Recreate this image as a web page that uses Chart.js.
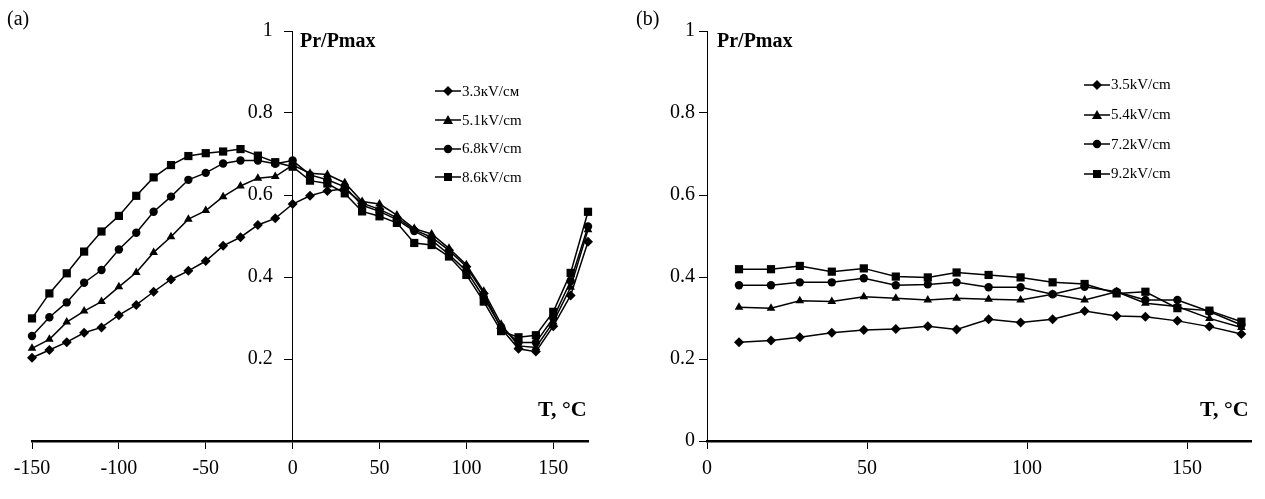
<!DOCTYPE html>
<html lang="en">
<head>
    <meta charset="UTF-8">
    <title>Pr/Pmax vs T</title>
    <script src="https://cdn.jsdelivr.net/npm/chart.js"></script>
    <style>
        body { margin: 0; background: #fff; font-family: "Liberation Serif", "DejaVu Serif", serif; }
        #wrap { position: relative; width: 1265px; height: 499px; overflow: hidden; }
        .pane { position: absolute; top: 0; height: 499px; }
        .txt { position: absolute; color: #000; white-space: nowrap; line-height: 1; }
        .panel { font-size: 20px; }
        .ylab { font-size: 20px; font-weight: bold; }
        .xlab { font-size: 22px; font-weight: bold; }
        .leg { position: absolute; font-size: 15px; line-height: 1; }
        .leg div { display: flex; align-items: center; }
        .leg svg { margin-right: 1px; }
    </style>
</head>
<body>
<div id="wrap">
    <div class="pane" style="left:0;width:632px"><canvas id="chartA" width="632" height="499"></canvas></div>
    <div class="pane" style="left:632px;width:633px"><canvas id="chartB" width="633" height="499"></canvas></div>

    <div class="txt panel" style="left:7px;top:8px">(a)</div>
    <div class="txt panel" style="left:636px;top:8px">(b)</div>
    <div class="txt ylab" style="left:300px;top:30px">Pr/Pmax</div>
    <div class="txt ylab" style="left:717px;top:30px">Pr/Pmax</div>
    <div class="txt xlab" style="left:538px;top:398px">T, °C</div>
    <div class="txt xlab" style="left:1200px;top:398px">T, °C</div>

    <div class="leg" id="legA" style="left:435px;top:77px"></div>
    <div class="leg" id="legB" style="left:1084px;top:70px"></div>
</div>

<script>
    // (a) temperatures and curves
    const tempsA = [-150, -140, -130, -120, -110, -100, -90, -80, -70, -60, -50, -40, -30, -20, -10, 0,
                    10, 20, 30, 40, 50, 60, 70, 80, 90, 100, 110, 120, 130, 140, 150, 160, 170];
    const labelsA = ['3.3кV/см', '5.1kV/cm', '6.8kV/cm', '8.6kV/cm'];
    const a33 = [0.203, 0.222, 0.241, 0.264, 0.277, 0.307, 0.332, 0.364, 0.394, 0.415, 0.439, 0.476, 0.497, 0.527, 0.543, 0.578,
                 0.598, 0.610, 0.615, 0.580, 0.565, 0.545, 0.515, 0.497, 0.465, 0.425, 0.360, 0.275, 0.225, 0.218, 0.280, 0.355, 0.486];
    const a51 = [0.226, 0.248, 0.290, 0.317, 0.340, 0.376, 0.411, 0.460, 0.498, 0.541, 0.562, 0.596, 0.622, 0.641, 0.645, 0.673,
                 0.653, 0.650, 0.630, 0.584, 0.578, 0.551, 0.518, 0.505, 0.470, 0.430, 0.365, 0.285, 0.232, 0.228, 0.290, 0.375, 0.515];
    const a68 = [0.256, 0.302, 0.338, 0.386, 0.417, 0.467, 0.508, 0.559, 0.596, 0.637, 0.654, 0.677, 0.684, 0.684, 0.676, 0.684,
                 0.649, 0.637, 0.620, 0.575, 0.560, 0.540, 0.512, 0.490, 0.455, 0.415, 0.350, 0.278, 0.240, 0.240, 0.300, 0.390, 0.523];
    const a86 = [0.299, 0.360, 0.409, 0.462, 0.511, 0.549, 0.598, 0.643, 0.673, 0.695, 0.702, 0.706, 0.712, 0.696, 0.680, 0.669,
                 0.635, 0.628, 0.604, 0.560, 0.548, 0.532, 0.483, 0.478, 0.450, 0.405, 0.340, 0.268, 0.253, 0.258, 0.315, 0.410, 0.559];

    // (b) temperatures and curves
    const tempsB = [10, 20, 29, 39, 49, 59, 69, 78, 88, 98, 108, 118, 128, 137, 147, 157, 167];
    const labelsB = ['3.5kV/cm', '5.4kV/cm', '7.2kV/cm', '9.2kV/cm'];
    const b35 = [0.241, 0.245, 0.253, 0.264, 0.271, 0.273, 0.280, 0.272, 0.297, 0.289, 0.297, 0.317, 0.305, 0.303, 0.293, 0.279, 0.261];
    const b54 = [0.326, 0.324, 0.342, 0.340, 0.352, 0.348, 0.344, 0.348, 0.346, 0.344, 0.358, 0.344, 0.364, 0.336, 0.328, 0.299, 0.277];
    const b72 = [0.380, 0.380, 0.387, 0.387, 0.397, 0.380, 0.382, 0.387, 0.375, 0.375, 0.358, 0.376, 0.364, 0.344, 0.344, 0.316, 0.283];
    const b92 = [0.419, 0.419, 0.427, 0.413, 0.421, 0.401, 0.399, 0.411, 0.405, 0.399, 0.387, 0.383, 0.360, 0.364, 0.324, 0.318, 0.291];

    const yTicks = [0, 0.2, 0.4, 0.6, 0.8, 1];
    const xTicksA = [-150, -100, -50, 0, 50, 100, 150];
    const xTicksB = [0, 50, 100, 150];

    const markers = [
        { style: 'rectRot', radius: 5 },
        { style: 'triangle', radius: 5 },
        { style: 'circle', radius: 4.2 },
        { style: 'rect', radius: 5.8 }
    ];
    const tickFont = { family: '"Liberation Serif", "DejaVu Serif", serif', size: 20 };

    function toPoints(xs, ys) {
        return xs.map((x, i) => ({ x: x, y: ys[i] }));
    }

    function makeSets(xs, series, labels) {
        return series.map((ys, i) => ({
            label: labels[i],
            data: toPoints(xs, ys),
            borderColor: '#000',
            backgroundColor: '#000',
            borderWidth: 1.5,
            pointStyle: markers[i].style,
            pointRadius: markers[i].radius,
            pointBorderWidth: 0,
            pointBackgroundColor: '#000',
            tension: 0,
            fill: false,
            clip: false
        }));
    }

    function axisGrid(hideZero) {
        return {
            display: true,
            drawOnChartArea: false,
            drawTicks: true,
            tickLength: 8,
            tickWidth: 1,
            color: ctx => (hideZero && ctx.tick && ctx.tick.value === 0) ? 'rgba(0,0,0,0)' : '#000'
        };
    }

    function buildChart(id, xs, series, labels, xMin, xMax, xTicks, opts) {
        return new Chart(document.getElementById(id), {
            type: 'line',
            data: { datasets: makeSets(xs, series, labels) },
            options: {
                responsive: false,
                animation: false,
                devicePixelRatio: 1,
                layout: { padding: opts.padding },
                plugins: { legend: { display: false }, tooltip: { enabled: false } },
                scales: {
                    x: {
                        type: 'linear',
                        min: xMin,
                        max: xMax,
                        position: 'bottom',
                        afterBuildTicks: s => { s.ticks = xTicks.map(v => ({ value: v })); },
                        afterFit: s => { s.height = 58; },
                        ticks: { font: tickFont, color: '#000', padding: 8, maxRotation: 0 },
                        grid: axisGrid(false),
                        border: { display: true, color: '#000', width: 2.5 }
                    },
                    y: {
                        type: 'linear',
                        min: 0,
                        max: 1,
                        position: opts.yPos,
                        afterBuildTicks: s => { s.ticks = yTicks.map(v => ({ value: v })); },
                        afterFit: s => { if (opts.yWidth) s.width = opts.yWidth; },
                        ticks: {
                            font: tickFont,
                            color: '#000',
                            padding: 4,
                            // the centred axis puts labels flush on the line, so pad them on the right
                            callback: v => (opts.hideZero && v === 0) ? '' : String(v) + (opts.labelGap || '')
                        },
                        grid: axisGrid(opts.hideZero),
                        border: { display: true, color: '#000', width: 1 }
                    }
                }
            }
        });
    }

    buildChart('chartA', tempsA, [a33, a51, a68, a86], labelsA, -150, 170, xTicksA,
        { padding: { left: 32, right: 44, top: 31, bottom: 0 }, yPos: { x: 0 }, hideZero: true, labelGap: '\u2002\u2002' });
    buildChart('chartB', tempsB, [b35, b54, b72, b92], labelsB, 0, 170, xTicksB,
        { padding: { left: 0, right: 14, top: 31, bottom: 0 }, yPos: 'left', yWidth: 75, hideZero: false });

    // legends: short line with the series marker, then the label
    const shapes = [
        '<polygon points="13,2 18,7 13,12 8,7" fill="#000"/>',
        '<polygon points="13,2 18,11 8,11" fill="#000"/>',
        '<circle cx="13" cy="7" r="4.2" fill="#000"/>',
        '<rect x="9" y="3" width="8" height="8" fill="#000"/>'
    ];
    function fillLegend(id, labels, rowH) {
        document.getElementById(id).innerHTML = labels.map((t, i) =>
            '<div style="height:' + rowH + 'px"><svg width="26" height="14"><line x1="0" y1="7" x2="26" y2="7" stroke="#000" stroke-width="1.5"/>' +
            shapes[i] + '</svg>' + t + '</div>').join('');
    }
    fillLegend('legA', labelsA, 28.7);
    fillLegend('legB', labelsB, 29.7);
</script>
</body>
</html>
